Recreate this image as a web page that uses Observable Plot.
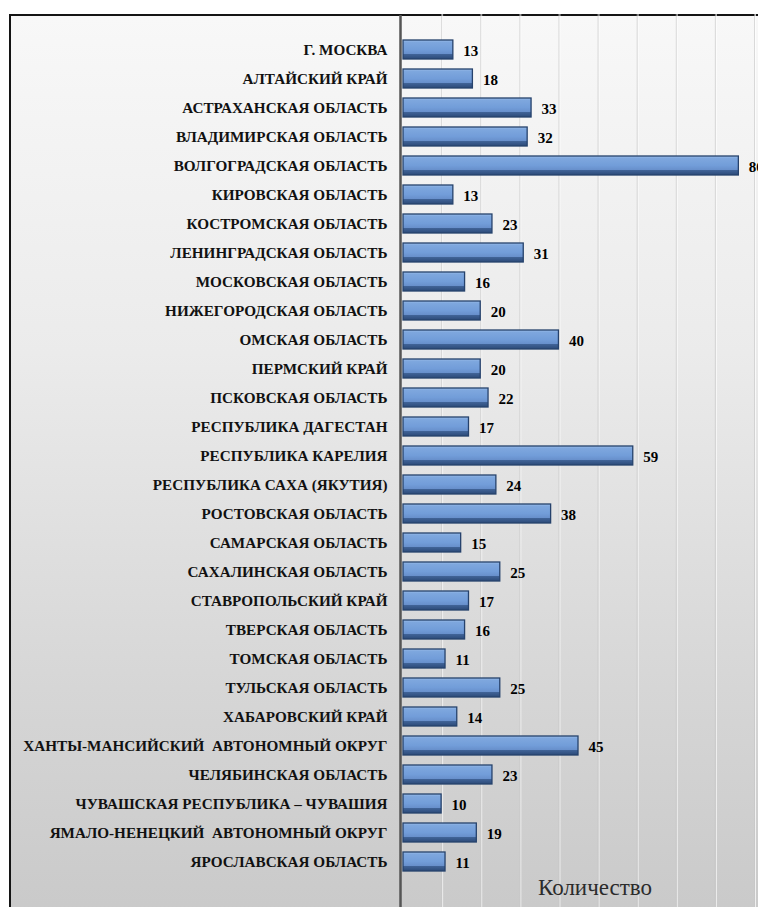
<!DOCTYPE html>
<html>
<head>
<meta charset="utf-8">
<script src="https://cdn.jsdelivr.net/npm/d3@7"></script>
<script src="https://cdn.jsdelivr.net/npm/@observablehq/plot@0.6"></script>
<style>
  html, body { margin: 0; padding: 0; background: #ffffff; overflow: hidden; width: 758px; height: 907px; }
  #wrap { position: relative; width: 758px; height: 907px; overflow: hidden; }
  #bg { position: absolute; left: 9px; top: 14px; width: 820px; height: 960px; border: 2px solid #141414;
        background: linear-gradient(to bottom, #f8f8f8 0%, #ebebeb 35%, #d6d6d6 70%, #c6c6c6 100%); }
  #chart { position: absolute; left: 0; top: 0; }
  #xlabel { position: absolute; left: 538px; top: 875px; font-family: "Liberation Serif", "DejaVu Serif", serif; font-size: 23px; color: #2b2b2b; }
  svg text { font-family: "Liberation Serif", "DejaVu Serif", serif; }
</style>
</head>
<body>
<div id="wrap">
  <div id="bg"></div>
  <div id="chart"></div>
  <div id="xlabel">Количество</div>
</div>
<script>
const regions = [
  "Г. МОСКВА",
  "АЛТАЙСКИЙ КРАЙ",
  "АСТРАХАНСКАЯ ОБЛАСТЬ",
  "ВЛАДИМИРСКАЯ ОБЛАСТЬ",
  "ВОЛГОГРАДСКАЯ ОБЛАСТЬ",
  "КИРОВСКАЯ ОБЛАСТЬ",
  "КОСТРОМСКАЯ ОБЛАСТЬ",
  "ЛЕНИНГРАДСКАЯ ОБЛАСТЬ",
  "МОСКОВСКАЯ ОБЛАСТЬ",
  "НИЖЕГОРОДСКАЯ ОБЛАСТЬ",
  "ОМСКАЯ ОБЛАСТЬ",
  "ПЕРМСКИЙ КРАЙ",
  "ПСКОВСКАЯ ОБЛАСТЬ",
  "РЕСПУБЛИКА ДАГЕСТАН",
  "РЕСПУБЛИКА КАРЕЛИЯ",
  "РЕСПУБЛИКА САХА (ЯКУТИЯ)",
  "РОСТОВСКАЯ ОБЛАСТЬ",
  "САМАРСКАЯ ОБЛАСТЬ",
  "САХАЛИНСКАЯ ОБЛАСТЬ",
  "СТАВРОПОЛЬСКИЙ КРАЙ",
  "ТВЕРСКАЯ ОБЛАСТЬ",
  "ТОМСКАЯ ОБЛАСТЬ",
  "ТУЛЬСКАЯ ОБЛАСТЬ",
  "ХАБАРОВСКИЙ КРАЙ",
  "ХАНТЫ-МАНСИЙСКИЙ  АВТОНОМНЫЙ ОКРУГ",
  "ЧЕЛЯБИНСКАЯ ОБЛАСТЬ",
  "ЧУВАШСКАЯ РЕСПУБЛИКА – ЧУВАШИЯ",
  "ЯМАЛО-НЕНЕЦКИЙ  АВТОНОМНЫЙ ОКРУГ",
  "ЯРОСЛАВСКАЯ ОБЛАСТЬ"
];
const counts = [13, 18, 33, 32, 86, 13, 23, 31, 16, 20, 40, 20, 22, 17, 59, 24, 38, 15, 25, 17, 16, 11, 25, 14, 45, 23, 10, 19, 11];
const gridTicks = [10, 20, 30, 40, 50, 60, 70, 80, 90];
const xDomain = [0, 90];
const axisTitle = "Количество";

document.getElementById("xlabel").textContent = axisTitle;

const data = regions.map((r, i) => ({region: r, value: counts[i]}));

const chart = Plot.plot({
  width: 758,
  height: 907,
  marginLeft: 402,
  marginRight: 4,
  marginTop: 18,
  marginBottom: 14,
  style: {background: "transparent", fontSize: "15px", fontWeight: "bold", color: "#000", overflow: "visible"},
  x: {domain: xDomain, axis: null},
  y: {domain: regions, padding: 0.33, label: null},
  marks: [
    Plot.ruleX(gridTicks, {stroke: "#ffffff", strokeWidth: 1, strokeOpacity: 0.7, dx: 1, insetTop: -4, insetBottom: -20}),
    Plot.ruleX(gridTicks, {stroke: "#c4c4c4", strokeWidth: 1, strokeOpacity: 0.6, insetTop: -4, insetBottom: -20}),
    Plot.barX(data, {x: "value", y: "region", fill: "url(#barGrad)", stroke: "#26426c", strokeWidth: 1.3, insetLeft: 1}),
    Plot.text(data, {x: "value", y: "region", text: d => String(d.value), textAnchor: "start", dx: 10, dy: 1, fill: "#000", fontSize: 15, fontWeight: "bold"}),
    Plot.ruleX([0], {stroke: "#555", strokeWidth: 2.5, insetTop: -3, insetBottom: -20, dx: -2}),
    Plot.axisY({tickSize: 0, tickPadding: 15, fontSize: 15.2, fontWeight: "bold", fill: "#111", label: null})
  ]
});

const svg = d3.select(chart);
const defs = svg.insert("defs", ":first-child");
const g = defs.append("linearGradient").attr("id", "barGrad").attr("x1", 0).attr("y1", 0).attr("x2", 0).attr("y2", 1);
[[0, "#9bbde9"], [0.12, "#7ea7de"], [0.5, "#729dd9"], [0.72, "#6890cc"], [0.76, "#3f6296"], [1, "#2c4a78"]]
  .forEach(([o, c]) => g.append("stop").attr("offset", o).attr("stop-color", c));

document.getElementById("chart").appendChild(chart);
</script>
</body>
</html>
